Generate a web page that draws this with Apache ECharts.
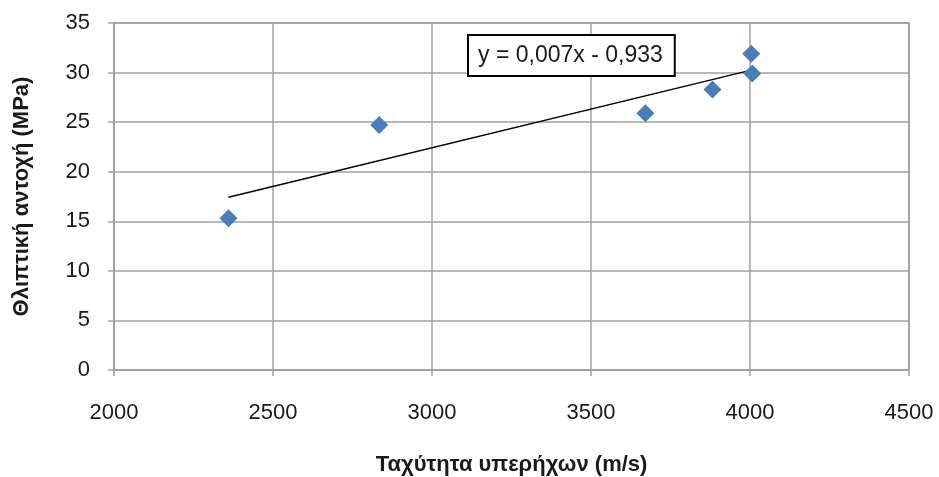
<!DOCTYPE html>
<html>
<head>
<meta charset="utf-8">
<script src="https://cdn.jsdelivr.net/npm/echarts@6/dist/echarts.min.js"></script>
<style>
html,body{margin:0;padding:0;background:#fff;}
#chart{width:939px;height:477px;}
</style>
</head>
<body>
<div id="chart"></div>
<script>
// Data
var velocity = [2360, 2834, 3671, 3882, 4004, 4007];   // m/s
var strength = [15.3, 24.7, 25.9, 28.3, 31.9, 29.9];   // MPa
var xTicks = [2000, 2500, 3000, 3500, 4000, 4500];
var yTicks = [0, 5, 10, 15, 20, 25, 30, 35];
var equationText = 'y = 0,007x - 0,933';
var xTitle = 'Ταχύτητα υπερήχων (m/s)';
var yTitle = 'Θλιπτική αντοχή (MPa)';

// linear least-squares trend line over the data
function trend(xs, ys) {
  var n = xs.length, mx = 0, my = 0;
  for (var i = 0; i < n; i++) { mx += xs[i]; my += ys[i]; }
  mx /= n; my /= n;
  var sxy = 0, sxx = 0;
  for (var j = 0; j < n; j++) { sxy += (xs[j]-mx)*(ys[j]-my); sxx += (xs[j]-mx)*(xs[j]-mx); }
  var b = sxy / sxx, a = my - b * mx;
  var x0 = Math.min.apply(null, xs), x1 = Math.max.apply(null, xs);
  return [[x0, a + b * x0], [x1, a + b * x1]];
}

var points = velocity.map(function (v, i) { return [v, strength[i]]; });
var font = '"Liberation Sans", Arial, sans-serif';
var gridColor = '#a0a0a0';
var textColor = '#1a1a1a';

var chart = echarts.init(document.getElementById('chart'));
chart.setOption({
  animation: false,
  backgroundColor: '#fff',
  grid: { left: 114, right: 30, top: 23, bottom: 107, containLabel: false,
          outerBoundsMode: 'none',
          show: true, borderColor: gridColor, borderWidth: 1.5 },
  xAxis: {
    type: 'value', min: xTicks[0], max: xTicks[xTicks.length-1], interval: 500,
    name: xTitle, nameLocation: 'middle', nameGap: 84,
    nameTextStyle: { fontFamily: font, fontWeight: 'bold', fontSize: 22, color: textColor },
    axisLine: { show: true, lineStyle: { color: gridColor, width: 1.5 } },
    axisTick: { show: true, length: 6, lineStyle: { color: gridColor, width: 1.5 } },
    axisLabel: { fontFamily: font, fontSize: 22, color: textColor, margin: 32,
                 formatter: function (v) { return String(v); } },
    splitLine: { show: true, lineStyle: { color: gridColor, width: 1.5 } }
  },
  yAxis: {
    type: 'value', min: yTicks[0], max: yTicks[yTicks.length-1], interval: 5,
    name: yTitle, nameLocation: 'middle', nameGap: 81, nameRotate: 90,
    nameTextStyle: { fontFamily: font, fontWeight: 'bold', fontSize: 22, color: textColor },
    axisLine: { show: true, lineStyle: { color: gridColor, width: 1.5 } },
    axisTick: { show: true, length: 6, lineStyle: { color: gridColor, width: 1.5 } },
    axisLabel: { fontFamily: font, fontSize: 22, color: textColor, margin: 24 },
    splitLine: { show: true, lineStyle: { color: gridColor, width: 1.5 } }
  },
  series: [
    {
      type: 'line', data: trend(velocity, strength), symbol: 'none',
      lineStyle: { color: '#000', width: 1.5 }, z: 2
    },
    {
      type: 'scatter', data: points, symbol: 'diamond', symbolSize: 18,
      itemStyle: { color: '#4a7ebb', opacity: 1 }, z: 3
    }
  ],
  graphic: [{
    type: 'text', left: 467, top: 34, z: 10,
    style: {
      text: equationText, fontFamily: font, fontSize: 23, fill: textColor,
      backgroundColor: '#fff', borderColor: '#000', borderWidth: 2,
      padding: [8, 11, 8, 9]
    }
  }]
});
</script>
</body>
</html>
